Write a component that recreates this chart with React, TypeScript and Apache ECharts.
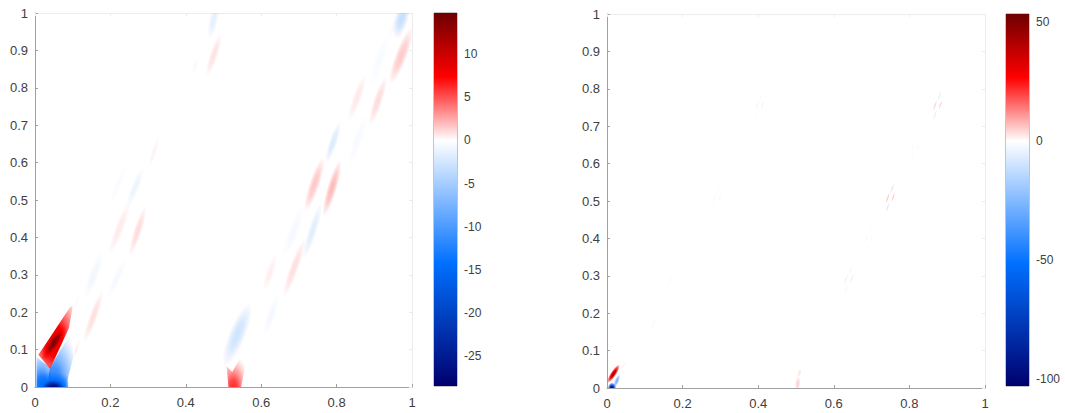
import React, { useEffect, useRef } from "react";
import * as echarts from "echarts";

const xTicks = [0, 0.2, 0.4, 0.6, 0.8, 1];
const yTicks = [0, 0.1, 0.2, 0.3, 0.4, 0.5, 0.6, 0.7, 0.8, 0.9, 1];
const leftBarTicks = [-25, -20, -15, -10, -5, 0, 5, 10];
const rightBarTicks = [-100, -50, 0, 50];
const leftRange = [-28.5, 14.8];
const rightRange = [-103, 53.5];

// streak: from x, from y, to x, to y, half width, value
const leftStreaks = [
  [0.42, 0.84, 0.43, 0.875, 0.007, 0.25],
  [0.459, 0.84, 0.49, 0.936, 0.011, 0.9],
  [0.465, 0.94, 0.482, 1.02, 0.012, -1.6],
  [0.305, 0.594, 0.326, 0.66, 0.007, 0.4],
  [0.247, 0.487, 0.284, 0.58, 0.011, -1.1],
  [0.2, 0.49, 0.24, 0.59, 0.009, -0.4],
  [0.202, 0.366, 0.246, 0.482, 0.012, 0.65],
  [0.255, 0.362, 0.29, 0.473, 0.011, 1.1],
  [0.137, 0.246, 0.175, 0.353, 0.013, -0.8],
  [0.197, 0.246, 0.237, 0.335, 0.011, -0.6],
  [0.104, 0.206, 0.118, 0.25, 0.005, -0.3],
  [0.134, 0.13, 0.175, 0.246, 0.011, 1],
  [0.104, 0.081, 0.116, 0.121, 0.005, 0.5],
  [0.508, 0.07, 0.565, 0.21, 0.022, -2.8],
  [0.61, 0.144, 0.642, 0.24, 0.011, -0.7],
  [0.61, 0.264, 0.637, 0.348, 0.011, 0.5],
  [0.663, 0.25, 0.711, 0.385, 0.012, 1],
  [0.663, 0.358, 0.708, 0.473, 0.014, -0.6],
  [0.716, 0.353, 0.756, 0.481, 0.012, -1.8],
  [0.721, 0.481, 0.761, 0.602, 0.014, 1.7],
  [0.769, 0.468, 0.806, 0.594, 0.013, 2.1],
  [0.775, 0.607, 0.806, 0.7, 0.011, -2.1],
  [0.836, 0.599, 0.875, 0.719, 0.012, -0.5],
  [0.836, 0.722, 0.873, 0.826, 0.012, 0.7],
  [0.891, 0.709, 0.928, 0.821, 0.012, 1.1],
  [0.894, 0.813, 0.934, 0.936, 0.013, -0.45],
  [0.947, 0.821, 0.995, 0.949, 0.016, 1.6],
  [0.942, 0.936, 0.963, 1.0, 0.009, -0.5],
  [0.96, 0.94, 0.985, 1.03, 0.018, -3.3],
];
const leftCoreStreaks = [[0.026, 0.08, 0.074, 0.156, 0.017, 14.8]];

const rightStreaks = [
  [0.004, 0.018, 0.03, 0.058, 0.0075, 42],
  [0.02, 0.004, 0.032, 0.034, 0.006, -28],
  [0.012, -0.012, 0.014, 0.012, 0.011, -100],
  [0.035, 0.05, 0.052, 0.07, 0.003, 1.5],
  [0.503, -0.005, 0.506, 0.028, 0.007, 5],
  [0.506, 0.03, 0.512, 0.05, 0.005, 3],
  [0.738, 0.495, 0.747, 0.521, 0.0028, 6],
  [0.753, 0.499, 0.761, 0.521, 0.0028, 6],
  [0.75, 0.521, 0.759, 0.546, 0.0028, -8],
  [0.738, 0.471, 0.747, 0.495, 0.0028, -8],
  [0.863, 0.742, 0.872, 0.768, 0.0028, 5],
  [0.878, 0.746, 0.886, 0.768, 0.0028, 5],
  [0.875, 0.768, 0.884, 0.793, 0.0028, -6],
  [0.863, 0.718, 0.872, 0.742, 0.0028, -6],
  [0.392, 0.742, 0.401, 0.768, 0.0028, 1.6],
  [0.407, 0.746, 0.415, 0.768, 0.0028, 1.6],
  [0.404, 0.768, 0.413, 0.793, 0.0028, -1.6],
  [0.392, 0.718, 0.401, 0.742, 0.0028, -1.6],
  [0.804, 0.629, 0.813, 0.655, 0.0028, 0.8],
  [0.819, 0.633, 0.827, 0.655, 0.0028, 0.8],
  [0.816, 0.655, 0.825, 0.68, 0.0028, -1],
  [0.804, 0.605, 0.813, 0.629, 0.0028, -1],
  [0.681, 0.384, 0.69, 0.41, 0.0028, 0.8],
  [0.696, 0.388, 0.704, 0.41, 0.0028, 0.8],
  [0.693, 0.41, 0.702, 0.435, 0.0028, -1],
  [0.681, 0.36, 0.69, 0.384, 0.0028, -1],
  [0.279, 0.495, 0.288, 0.521, 0.0028, 1],
  [0.294, 0.499, 0.302, 0.521, 0.0028, 1],
  [0.291, 0.521, 0.3, 0.546, 0.0028, -1.2],
  [0.279, 0.471, 0.288, 0.495, 0.0028, -1.2],
  [0.628, 0.277, 0.637, 0.303, 0.0028, 2.5],
  [0.643, 0.281, 0.651, 0.303, 0.0028, 2.5],
  [0.64, 0.303, 0.649, 0.328, 0.0028, -2.5],
  [0.628, 0.253, 0.637, 0.277, 0.0028, -2.5],
  [0.16, 0.27, 0.172, 0.3, 0.003, 0.7],
  [0.115, 0.155, 0.13, 0.19, 0.003, 0.7],
];

// patch: centre x, centre y, reach, peak value, then its outline
const leftPatchCentres = [
  [0.05, 0.005, 0.16, -13],
  [0.018, 0.0, 0.105, -15],
  [0.048, -0.004, 0.045, -28.5],
  [0.526, -0.008, 0.095, 6.5],
  [0.05, 0.125, 0.15, 9.5],
];
const leftPatchOutlines = [
  [[0.04, 0.052], [0.098, 0.15], [0.102, 0.08], [0.078, -0.01], [0.03, -0.01]],
  [[0.004, -0.01], [0.004, 0.08], [0.04, 0.052], [0.05, -0.01]],
  [[0.008, -0.01], [0.008, 0.03], [0.045, 0.05], [0.088, 0.03], [0.088, -0.01]],
  [[0.508, 0.056], [0.523, 0.04], [0.564, 0.11], [0.56, 0.07], [0.545, -0.01], [0.514, -0.01]],
  [[0.009, 0.086], [0.04, 0.048], [0.09, 0.158], [0.1, 0.215], [0.094, 0.215], [0.035, 0.125]],
];
const rightPatchCentres: number[][] = [];
const rightPatchOutlines: number[][][] = [];

const fade = [
  [0, 1],
  [0.4, 0.8],
  [0.75, 0.35],
  [1, 0],
];
const patchFade = [
  [0, 1],
  [0.28, 0.82],
  [0.5, 0.5],
  [0.72, 0.24],
  [0.88, 0.08],
  [1, 0],
];

const mix = (a: number[], b: number[], t: number) => a.map((c, i) => Math.round(c + (b[i] - c) * t));
const WHITE = [255, 255, 255];
const RED = [255, 0, 0];
const MAROON = [110, 0, 0];
const BLUE = [0, 112, 255];
const NAVY = [0, 0, 110];

function colorAt(v: number, range: number[]) {
  const t = v >= 0 ? Math.min(1, v / range[1]) : Math.min(1, v / range[0]);
  const [hue, deep] = v >= 0 ? [RED, MAROON] : [BLUE, NAVY];
  return t < 0.5 ? mix(WHITE, hue, t * 2) : mix(hue, deep, t * 2 - 1);
}

// A colour over white gives the colormap exactly: pure hue + alpha below half range.
function overWhite(v: number, range: number[]) {
  const t = v >= 0 ? Math.min(1, v / range[1]) : Math.min(1, v / range[0]);
  const hue = v >= 0 ? RED : BLUE;
  if (t < 0.5) return `rgba(${hue[0]},${hue[1]},${hue[2]},${(t * 2).toFixed(3)})`;
  const c = colorAt(v, range);
  return `rgb(${c[0]},${c[1]},${c[2]})`;
}

function streakRenderer(range: number[]) {
  return (_p: any, api: any) => {
    const a = api.coord([api.value(0), api.value(1)]);
    const b = api.coord([api.value(2), api.value(3)]);
    const w = api.size([api.value(4), api.value(4)])[0];
    const v = api.value(5);
    const dx = b[0] - a[0];
    const dy = b[1] - a[1];
    const stops = fade.map(([r, f]) => ({ offset: r, color: overWhite(v * f, range) }));
    return {
      type: "circle",
      x: (a[0] + b[0]) / 2,
      y: (a[1] + b[1]) / 2,
      rotation: -Math.atan2(dy, dx),
      scaleX: Math.max((Math.hypot(dx, dy) / 2) * 1.2, w),
      scaleY: w,
      shape: { cx: 0, cy: 0, r: 1 },
      style: { fill: new echarts.graphic.RadialGradient(0.5, 0.5, 0.5, stops) },
    };
  };
}

function patchRenderer(range: number[], outlines: number[][][]) {
  return (p: any, api: any) => {
    const c = api.coord([api.value(0), api.value(1)]);
    const reach = api.size([api.value(2), api.value(2)])[1];
    const v = api.value(3);
    const points = outlines[p.dataIndex].map((pt) => api.coord(pt));
    const xs = points.map((q: number[]) => q[0]);
    const ys = points.map((q: number[]) => q[1]);
    const left = Math.min(...xs);
    const top = Math.min(...ys);
    const bw = Math.max(...xs) - left;
    const bh = Math.max(...ys) - top;
    const stops = patchFade.map(([o, f]) => ({ offset: o, color: overWhite(v * f, range) }));
    return {
      type: "polygon",
      shape: { points },
      style: {
        fill: new echarts.graphic.RadialGradient((c[0] - left) / bw, (c[1] - top) / bh, reach / bh, stops),
      },
    };
  };
}

function barRenderer(range: number[]) {
  return (_p: any, api: any) => {
    const a = api.coord([0, range[1]]);
    const b = api.coord([1, range[0]]);
    const vals = [range[1], range[1] / 2, 0, range[0] / 2, range[0]];
    const span = range[1] - range[0];
    return {
      type: "rect",
      shape: { x: a[0], y: a[1], width: b[0] - a[0], height: b[1] - a[1] },
      style: {
        fill: new echarts.graphic.LinearGradient(
          0,
          0,
          0,
          1,
          vals.map((v) => {
            const c = colorAt(v, range);
            return { offset: (range[1] - v) / span, color: `rgb(${c[0]},${c[1]},${c[2]})` };
          })
        ),
      },
    };
  };
}

const FONT = "Liberation Sans";
const TXT = "#404040";
const fmt = (v: number) => String(Math.round(v * 10) / 10);

function plotAxes(gridIndex: number) {
  const pale = "#ececec";
  const main = "#a0a0a0";
  const base = { type: "value", gridIndex, min: 0, max: 1 };
  const xLabels = { customValues: xTicks };
  const yLabels = { customValues: yTicks };
  return {
    x: [
      {
        ...base,
        position: "bottom",
        axisLine: { onZero: false, lineStyle: { color: main, width: 1 } },
        axisTick: { inside: true, length: 3, ...xLabels, lineStyle: { color: main } },
        axisLabel: { fontFamily: FONT, fontSize: 13, color: TXT, margin: 9, formatter: fmt, ...xLabels },
        splitLine: { show: false },
      },
      {
        ...base,
        position: "top",
        axisLine: { onZero: false, lineStyle: { color: pale, width: 1 } },
        axisTick: { inside: true, length: 3, ...xLabels, lineStyle: { color: pale } },
        axisLabel: { show: false },
        splitLine: { show: false },
      },
    ],
    y: [
      {
        ...base,
        position: "left",
        axisLine: { onZero: false, lineStyle: { color: main, width: 1 } },
        axisTick: { inside: true, length: 3, ...yLabels, lineStyle: { color: main } },
        axisLabel: { fontFamily: FONT, fontSize: 13, color: TXT, margin: 7, formatter: fmt, ...yLabels },
        splitLine: { show: false },
      },
      {
        ...base,
        position: "right",
        axisLine: { onZero: false, lineStyle: { color: pale, width: 1 } },
        axisTick: { inside: true, length: 3, ...yLabels, lineStyle: { color: pale } },
        axisLabel: { show: false },
        splitLine: { show: false },
      },
    ],
  };
}

export default function App() {
  const ref = useRef<HTMLDivElement>(null);
  useEffect(() => {
    const chart = echarts.init(ref.current!, undefined, { renderer: "svg" });
    const a = plotAxes(0);
    const b = plotAxes(1);
    const barX = (gridIndex: number) => ({ type: "value", gridIndex, min: 0, max: 1, show: false });
    const barY = (gridIndex: number, range: number[], ticks: number[]) => ({
      type: "value",
      gridIndex,
      position: "right",
      min: range[0],
      max: range[1],
      axisLine: { show: false, onZero: false },
      axisTick: { show: true, inside: true, length: 3, customValues: ticks, lineStyle: { color: "#404040" } },
      axisLabel: { show: true, customValues: ticks, fontFamily: FONT, fontSize: 12, color: TXT, margin: 7 },
      splitLine: { show: false },
    });
    chart.setOption({
      animation: false,
      backgroundColor: "#ffffff",
      grid: [
        { left: 35, top: 13, width: 377, height: 374 },
        { left: 607, top: 14, width: 378, height: 374 },
        { left: 434, top: 13, width: 23, height: 373, show: true, borderColor: "#8a8a8a", borderWidth: 1, backgroundColor: "transparent" },
        { left: 1006, top: 14, width: 23, height: 372, show: true, borderColor: "#8a8a8a", borderWidth: 1, backgroundColor: "transparent" },
      ],
      xAxis: [...a.x, ...b.x, barX(2), barX(3)],
      yAxis: [...a.y, ...b.y, barY(2, leftRange, leftBarTicks), barY(3, rightRange, rightBarTicks)],
      series: [
        { type: "custom", xAxisIndex: 0, yAxisIndex: 0, clip: true, silent: true, data: leftStreaks, encode: { x: 0, y: 1 }, renderItem: streakRenderer(leftRange) },
        { type: "custom", xAxisIndex: 0, yAxisIndex: 0, clip: true, silent: true, data: leftPatchCentres, encode: { x: 0, y: 1 }, renderItem: patchRenderer(leftRange, leftPatchOutlines) },
        { type: "custom", xAxisIndex: 0, yAxisIndex: 0, clip: true, silent: true, data: leftCoreStreaks, encode: { x: 0, y: 1 }, renderItem: streakRenderer(leftRange) },
        { type: "custom", xAxisIndex: 2, yAxisIndex: 2, clip: true, silent: true, data: rightStreaks, encode: { x: 0, y: 1 }, renderItem: streakRenderer(rightRange) },
        { type: "custom", xAxisIndex: 2, yAxisIndex: 2, clip: true, silent: true, data: rightPatchCentres, encode: { x: 0, y: 1 }, renderItem: patchRenderer(rightRange, rightPatchOutlines) },
        { type: "custom", xAxisIndex: 4, yAxisIndex: 4, silent: true, data: [leftRange], encode: { y: [0, 1] }, renderItem: barRenderer(leftRange) },
        { type: "custom", xAxisIndex: 5, yAxisIndex: 5, silent: true, data: [rightRange], encode: { y: [0, 1] }, renderItem: barRenderer(rightRange) },
      ],
    });
    return () => chart.dispose();
  }, []);
  return <div ref={ref} style={{ position: "fixed", left: 0, top: 0, width: 1065, height: 413 }} />;
}
